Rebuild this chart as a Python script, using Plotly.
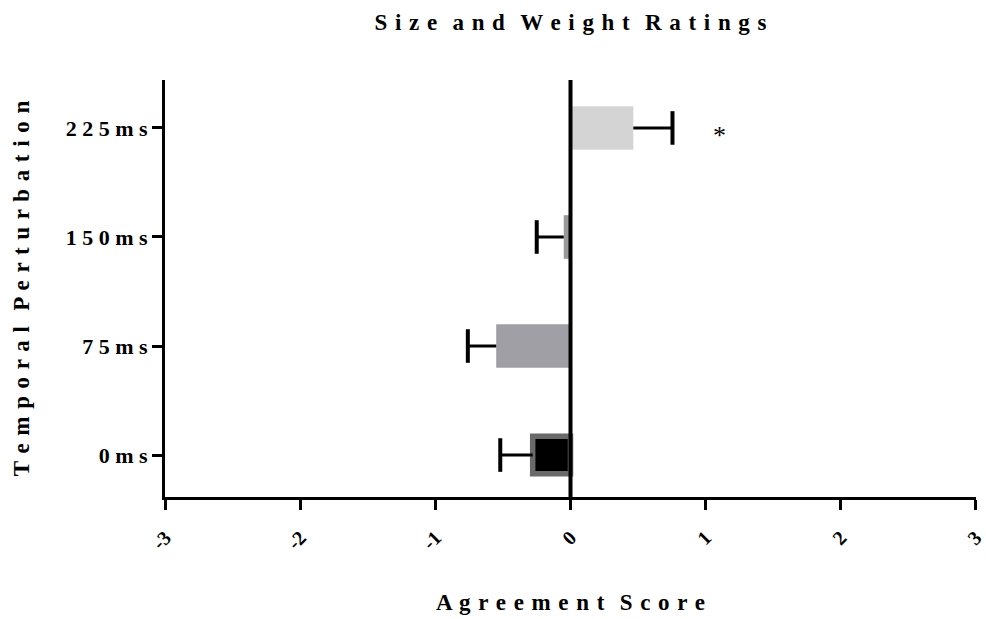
import plotly.graph_objects as go

# Mean agreement score per temporal perturbation, with one-sided SEM whiskers
categories = ["0ms", "75ms", "150ms", "225ms"]
scores = [-0.28, -0.55, -0.05, 0.465]
err_minus = [0.24, 0.21, 0.20, 0.0]
err_plus = [0.0, 0.0, 0.0, 0.29]
bar_colors = ["#000000", "#a09fa5", "#9a9a9a", "#d4d4d4"]
outline_colors = ["#6a6a6a", "#a09fa5", "#9a9a9a", "#d4d4d4"]
outline_widths = [5.5, 0, 0, 0]
bar_widths = [0.345, 0.4, 0.4, 0.4]
x_ticks = [-3, -2, -1, 0, 1, 2, 3]
significant = ["225ms"]

FONT = "Liberation Serif"
GAP = " \u200a"


def spaced(text, gap=GAP):
    """Letter-spaced label text."""
    words = text.split(" ")
    return (gap * 2).join(gap.join(w) for w in words)


def bold(text):
    return "<b>" + text + "</b>"


# whisker end points, pointing away from zero
whisker_end = [s - lo if lo > 0 else s + hi for s, lo, hi in zip(scores, err_minus, err_plus)]
stem_x, stem_y = [], []
for cat, s, e in zip(categories, scores, whisker_end):
    stem_x += [s, e, None]
    stem_y += [cat, cat, None]

fig = go.Figure()
fig.add_trace(go.Bar(
    y=categories, x=scores, orientation="h",
    width=bar_widths,
    marker=dict(color=bar_colors,
                line=dict(color=outline_colors, width=outline_widths)),
    showlegend=False, hoverinfo="x+y",
))
fig.add_trace(go.Scatter(
    x=stem_x, y=stem_y, mode="lines",
    line=dict(color="black", width=3),
    showlegend=False, hoverinfo="skip",
))
fig.add_trace(go.Scatter(
    x=whisker_end, y=categories, mode="markers",
    marker=dict(symbol="line-ns", size=24, line=dict(color="black", width=4)),
    showlegend=False, hoverinfo="skip",
))

# vertical reference line at zero
fig.add_shape(type="line", xref="x", yref="paper", x0=0, x1=0, y0=0, y1=1,
              line=dict(color="black", width=4), layer="above")

for cat in significant:
    i = categories.index(cat)
    fig.add_annotation(x=whisker_end[i] + 0.35, y=cat, text="*", showarrow=False,
                       font=dict(family=FONT, size=26, color="black"), yshift=-8)

fig.update_layout(
    width=986, height=619,
    margin=dict(l=165, r=10, t=80, b=122),
    plot_bgcolor="white", paper_bgcolor="white",
    font=dict(family=FONT, color="black", size=22),
    title=dict(text=bold(spaced("Size and Weight Ratings")), x=0.5, xref="paper",
               y=1 - 22 / 619, yanchor="middle",
               font=dict(family=FONT, size=23, color="black")),
    bargap=0.6,
)
fig.update_xaxes(
    range=[-3.002, 3.002], tickvals=x_ticks, ticktext=[bold(str(v)) for v in x_ticks],
    tickangle=-45, showline=True, linecolor="black", linewidth=3,
    ticks="outside", ticklen=10, tickwidth=3, tickcolor="black",
    ticklabelshift=0, ticklabelstandoff=8, ticklabeloverflow="allow",
    automargin=False, showgrid=False, zeroline=False,
    tickfont=dict(family=FONT, size=20),
    title=dict(text=bold(spaced("Agreement Score")), standoff=42,
               font=dict(family=FONT, size=23)),
)
fig.update_yaxes(
    range=[-0.385, 3.44], tickvals=categories,
    ticktext=[bold(spaced(c, " ")) for c in categories],
    showline=True, linecolor="black", linewidth=3,
    ticks="outside", ticklen=10, tickwidth=3, tickcolor="black",
    automargin=False, showgrid=False, zeroline=False,
    tickfont=dict(family=FONT, size=22),
    title=dict(text=bold(spaced("Temporal Perturbation")), standoff=30,
               font=dict(family=FONT, size=23)),
)

fig.write_html("out.html")
